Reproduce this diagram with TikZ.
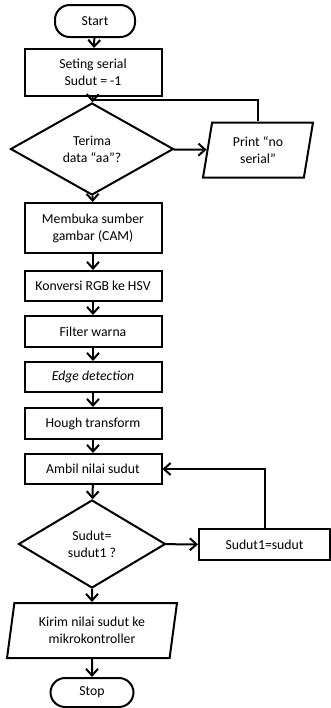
\documentclass[tikz,border=0pt]{standalone}
\usepackage{fontspec}
\setmainfont{Carlito}
\usetikzlibrary{shapes.geometric,arrows.meta}

\begin{document}
\begin{tikzpicture}[x=0.75pt, y=-0.75pt,
  every node/.style={font=\fontsize{10.3}{12.8}\selectfont, align=center, line width=1.5pt, inner sep=1pt},
  terminal/.style={draw, rectangle, rounded corners=11pt, minimum height=#1},
  proc/.style={draw, rectangle, minimum width=102.75pt, minimum height=#1},
  decision/.style={draw, diamond, inner sep=0pt, minimum width=#1},
  io/.style={draw, trapezium, trapezium left angle=80, trapezium right angle=100, trapezium stretches=true, minimum height=41.25pt, minimum width=#1},
  flow/.style={line width=1.5pt, -{Straight Barb[length=5pt, width=9pt, line width=1.5pt]}},
  line/.style={line width=1.5pt}]

\useasboundingbox (0, 0) rectangle (331, 708);

\node[terminal=24pt, minimum width=60pt] (start) at (95, 21) {Start};

\node[proc=35.25pt] (seting) at (93, 72.5) {Seting serial\\Sudut = -1};

\node[decision=122.25pt, minimum height=69pt] (terima) at (92, 149) {Terima\\data “aa”?};

\node[io=82.5pt] (print) at (258, 150) {Print “no\\serial”};

\node[proc=37.5pt] (membuka) at (93, 228) {Membuka sumber\\gambar (CAM)};

\node[proc=22.5pt] (konversi) at (93, 286) {Konversi RGB ke HSV};

\node[proc=23.25pt] (filter) at (93, 331.5) {Filter warna};

\node[proc=22.5pt] (edge) at (93, 377) {\itshape Edge detection};

\node[proc=23.25pt] (hough) at (93, 423.5) {Hough transform};

\node[proc=22.5pt] (ambil) at (93, 469) {Ambil nilai sudut};

\node[decision=110.25pt, minimum height=66pt] (sudutq) at (92, 544) {Sudut=\\sudut1 ?};

\node[draw, rectangle, minimum width=98.25pt, minimum height=23.25pt] (sudutsatu) at (264.5, 544.5) {Sudut1=sudut};

\node[io=127.5pt] (kirim) at (92, 630.5) {Kirim nilai sudut ke\\mikrokontroller};

\node[terminal=21.75pt, minimum width=62.25pt] (stop) at (92, 692.5) {Stop};

\coordinate (join) at (93, 100);


\draw[flow] (start) -- (seting);

\draw[flow] (seting) -- (terima);

\draw[flow] (terima) -- (print);

\draw[line] (print.north) |- (join);

\draw[flow] (terima) -- (membuka);

\draw[flow] (membuka) -- (konversi);

\draw[flow] (konversi) -- (filter);

\draw[flow] (filter) -- (edge);

\draw[flow] (edge) -- (hough);

\draw[flow] (hough) -- (ambil);

\draw[flow] (ambil) -- (sudutq);

\draw[flow] (sudutq) -- (sudutsatu);

\draw[flow] (sudutsatu.north) |- (ambil.east);

\draw[flow] (sudutq) -- (kirim);

\draw[flow] (kirim) -- (stop);

\end{tikzpicture}
\end{document}
